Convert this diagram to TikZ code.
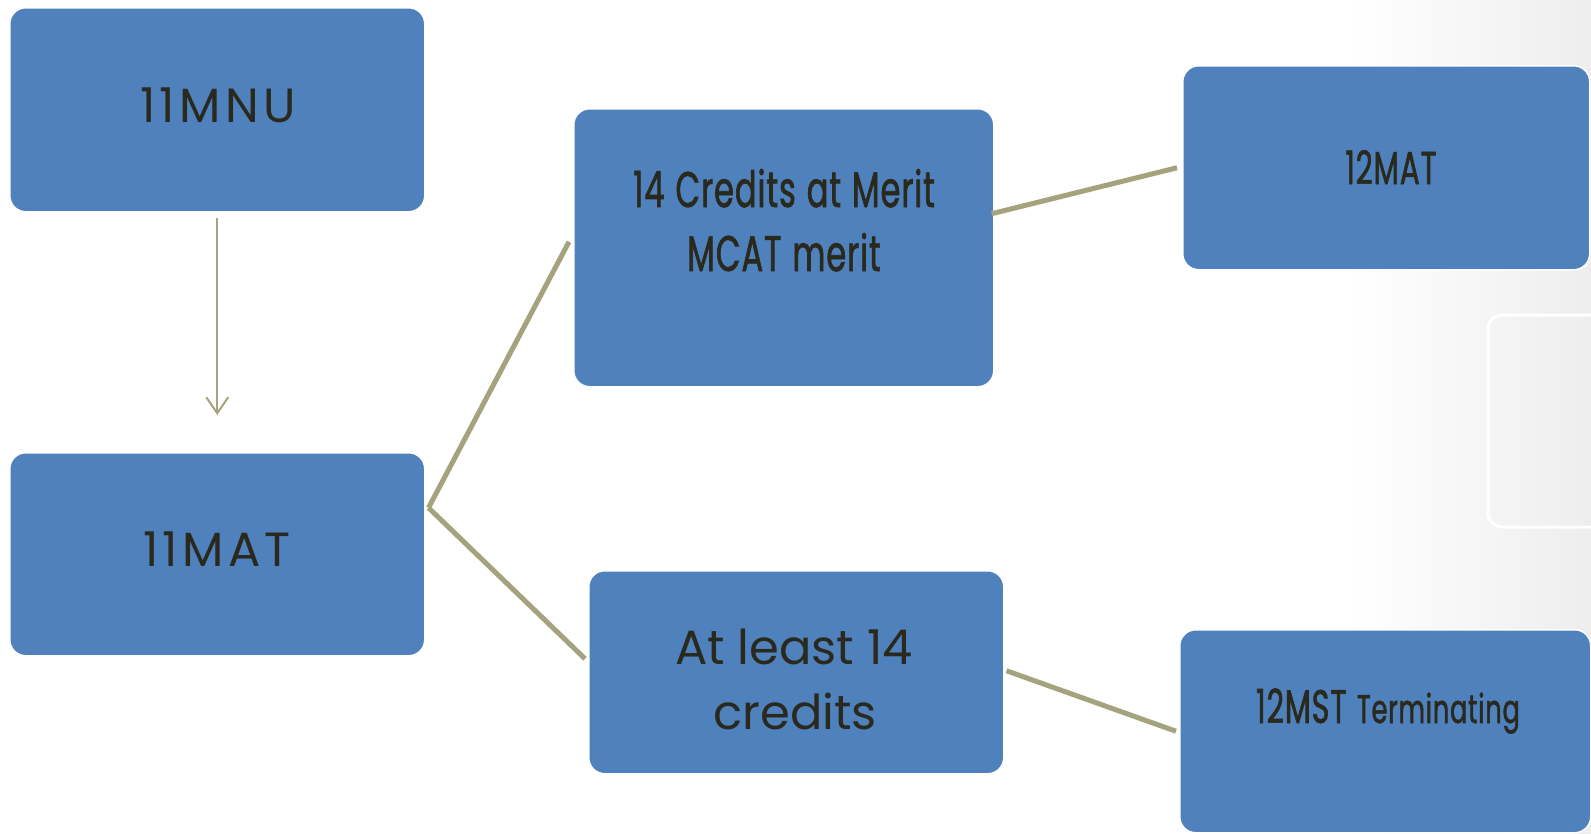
\documentclass[tikz,border=0pt]{standalone}
\usepackage{fontspec}
\setmainfont{Poppins}
\newfontfamily\condf[FakeStretch=0.64, FakeBold=1.3, LetterSpace=2, WordSpace=1.15]{Poppins}
\newfontfamily\geof[LetterSpace=9]{Poppins}
\usetikzlibrary{arrows.meta,calc}
\definecolor{boxblue}{HTML}{4F81BD}
\definecolor{txt}{HTML}{2A291E}
\definecolor{link}{HTML}{A5A27E}
\begin{document}
\begin{tikzpicture}[x=1pt,y=-1pt,
  box/.style={fill=boxblue, draw=white, line width=1.5pt, rounded corners=16pt, inner sep=0pt, anchor=north west},
  lbl/.style={text=txt, inner sep=0pt, anchor=base},
  geo/.style={font=\geof\fontsize{48}{48}\selectfont},
  cond/.style={font=\condf\fontsize{50}{50}\selectfont},
  thick link/.style={draw=link, line width=5pt},
  thin link/.style={draw=link, line width=2pt, -{Straight Barb[length=16pt,width=22pt]}}]
\useasboundingbox (0,0) rectangle (1591,833);
\fill[white] (0,0) rectangle (1591,833);
\shade[left color=white, right color=black!7] (1350,0) rectangle (1591,833);
% faint empty background box
\draw[white, line width=3pt, rounded corners=14pt] (1488,315) rectangle (1620,527);
% boxes
\node[box, minimum width=415pt, minimum height=204pt] (mnu) at (9,7) {};
\node[box, minimum width=415pt, minimum height=203pt] (mat) at (9,452) {};
\node[box, minimum width=420pt, minimum height=278pt] (cred) at (573,108) {};
\node[box, minimum width=415pt, minimum height=203pt] (least) at (588,570) {};
\node[box, minimum width=407pt, minimum height=204pt] (m12) at (1182,65) {};
\node[box, minimum width=411pt, minimum height=203pt] (mst) at (1179,629) {};
% texts
\node[lbl, geo] (tmnu) at (218,122) {11MNU};
\node[lbl, geo] (tmat) at (217,566) {11MAT};
\node[lbl, cond] (tcred1) at (784,207) {14 Credits at Merit};
\node[lbl, cond] (tcred2) at (784,271) {MCAT merit};
\node[lbl, font=\condf\fontsize{46}{46}\selectfont] (tm12) at (1391,184) {12MAT};
\node[lbl, font=\fontsize{48}{48}\selectfont] (tleast1) at (794,664) {At least 14};
\node[lbl, font=\fontsize{48}{48}\selectfont] (tleast2) at (795,729) {credits};
\node[lbl, font=\condf\fontsize{47}{47}\selectfont] (tmst) at (1388,723) {12MST {\fontsize{40}{40}\selectfont Terminating}};
% connectors
\draw[thin link] ($(mnu.south)+(0,5)$) -- ($(mat.north)+(0,-37)$);
\coordinate (s1) at ($(mat.east)+(3,-46.5)$);
\draw[thick link] (s1) -- ($(cred.west)+(-4,-6)$);
\draw[thick link] (s1) -- ($(least.west)+(-3,-13.5)$);
\draw[thick link] ($(cred.east)+(-3,-34)$) -- ($(m12.west)+(-5,0)$);
\draw[thick link] ($(least.east)+(2,-1.5)$) -- ($(mst.west)+(-3,0)$);
\end{tikzpicture}
\end{document}
